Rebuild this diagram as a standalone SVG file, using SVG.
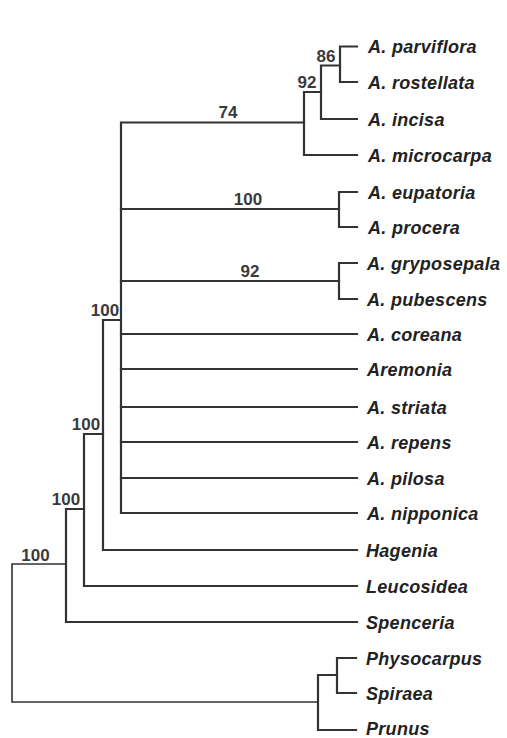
<svg xmlns="http://www.w3.org/2000/svg" width="507" height="738" viewBox="0 0 507 738">
<style>
.e{fill:none;stroke:#333;stroke-width:2.2;stroke-linecap:square;stroke-linejoin:miter}
.r{stroke-width:1.6}
.t{font-family:"Liberation Sans",Arial,sans-serif;font-size:18px;font-weight:bold;font-style:italic;fill:#222;letter-spacing:0.3px}
.b{font-family:"Liberation Sans",Arial,sans-serif;font-size:17px;font-weight:bold;fill:#3a3a3a;text-anchor:middle}
</style>
<rect width="507" height="738" fill="#fff"/>
<g id="connectors">
<path class="e" d="M357,46.5H340V82H357"/>
<path class="e" d="M340,65.5H321V119H357"/>
<path class="e" d="M321,92H304V155H357"/>
<path class="e" d="M357,192H339V227H357"/>
<path class="e" d="M357,263H339V299H357"/>
<path class="e" d="M304,122.5H121V513H357"/>
<path class="e" d="M121,209H339"/>
<path class="e" d="M121,281H339"/>
<path class="e" d="M121,334H357"/>
<path class="e" d="M121,369H357"/>
<path class="e" d="M121,407H357"/>
<path class="e" d="M121,442H357"/>
<path class="e" d="M121,478H357"/>
<path class="e" d="M121,320H103V550H357"/>
<path class="e" d="M103,434H84V586H357"/>
<path class="e" d="M84,509H66V622H357"/>
<path class="e r" d="M66,564H12V702H318"/>
<path class="e" d="M356,658H337V693H356"/>
<path class="e" d="M337,675H318V730H356"/>
</g>
<g id="support">
<text class="b" x="326" y="61.5">86</text>
<text class="b" x="307" y="87.5">92</text>
<text class="b" x="228" y="118">74</text>
<text class="b" x="248" y="205">100</text>
<text class="b" x="250" y="277">92</text>
<text class="b" x="105" y="316">100</text>
<text class="b" x="86" y="430">100</text>
<text class="b" x="66" y="505">100</text>
<text class="b" x="35.5" y="560.5">100</text>
</g>
<g id="parviflora"><text class="t" x="368" y="53">A. parviflora</text></g>
<g id="rostellata"><text class="t" x="368" y="88.5">A. rostellata</text></g>
<g id="incisa"><text class="t" x="368" y="125.5">A. incisa</text></g>
<g id="microcarpa"><text class="t" x="368" y="161.5">A. microcarpa</text></g>
<g id="eupatoria"><text class="t" x="368" y="198.5">A. eupatoria</text></g>
<g id="procera"><text class="t" x="368" y="233.5">A. procera</text></g>
<g id="gryposepala"><text class="t" x="367" y="269.5">A. gryposepala</text></g>
<g id="pubescens"><text class="t" x="367" y="305.5">A. pubescens</text></g>
<g id="coreana"><text class="t" x="367" y="340.5">A. coreana</text></g>
<g id="aremonia"><text class="t" x="367" y="375.5">Aremonia</text></g>
<g id="striata"><text class="t" x="367" y="413.5">A. striata</text></g>
<g id="repens"><text class="t" x="367" y="448.5">A. repens</text></g>
<g id="pilosa"><text class="t" x="367" y="484.5">A. pilosa</text></g>
<g id="nipponica"><text class="t" x="367" y="519.5">A. nipponica</text></g>
<g id="hagenia"><text class="t" x="366" y="556.5">Hagenia</text></g>
<g id="leucosidea"><text class="t" x="366" y="592.5">Leucosidea</text></g>
<g id="spenceria"><text class="t" x="366" y="628.5">Spenceria</text></g>
<g id="physocarpus"><text class="t" x="366" y="664.5">Physocarpus</text></g>
<g id="spiraea"><text class="t" x="366" y="699.5">Spiraea</text></g>
<g id="prunus"><text class="t" x="366" y="735">Prunus</text></g>
</svg>
